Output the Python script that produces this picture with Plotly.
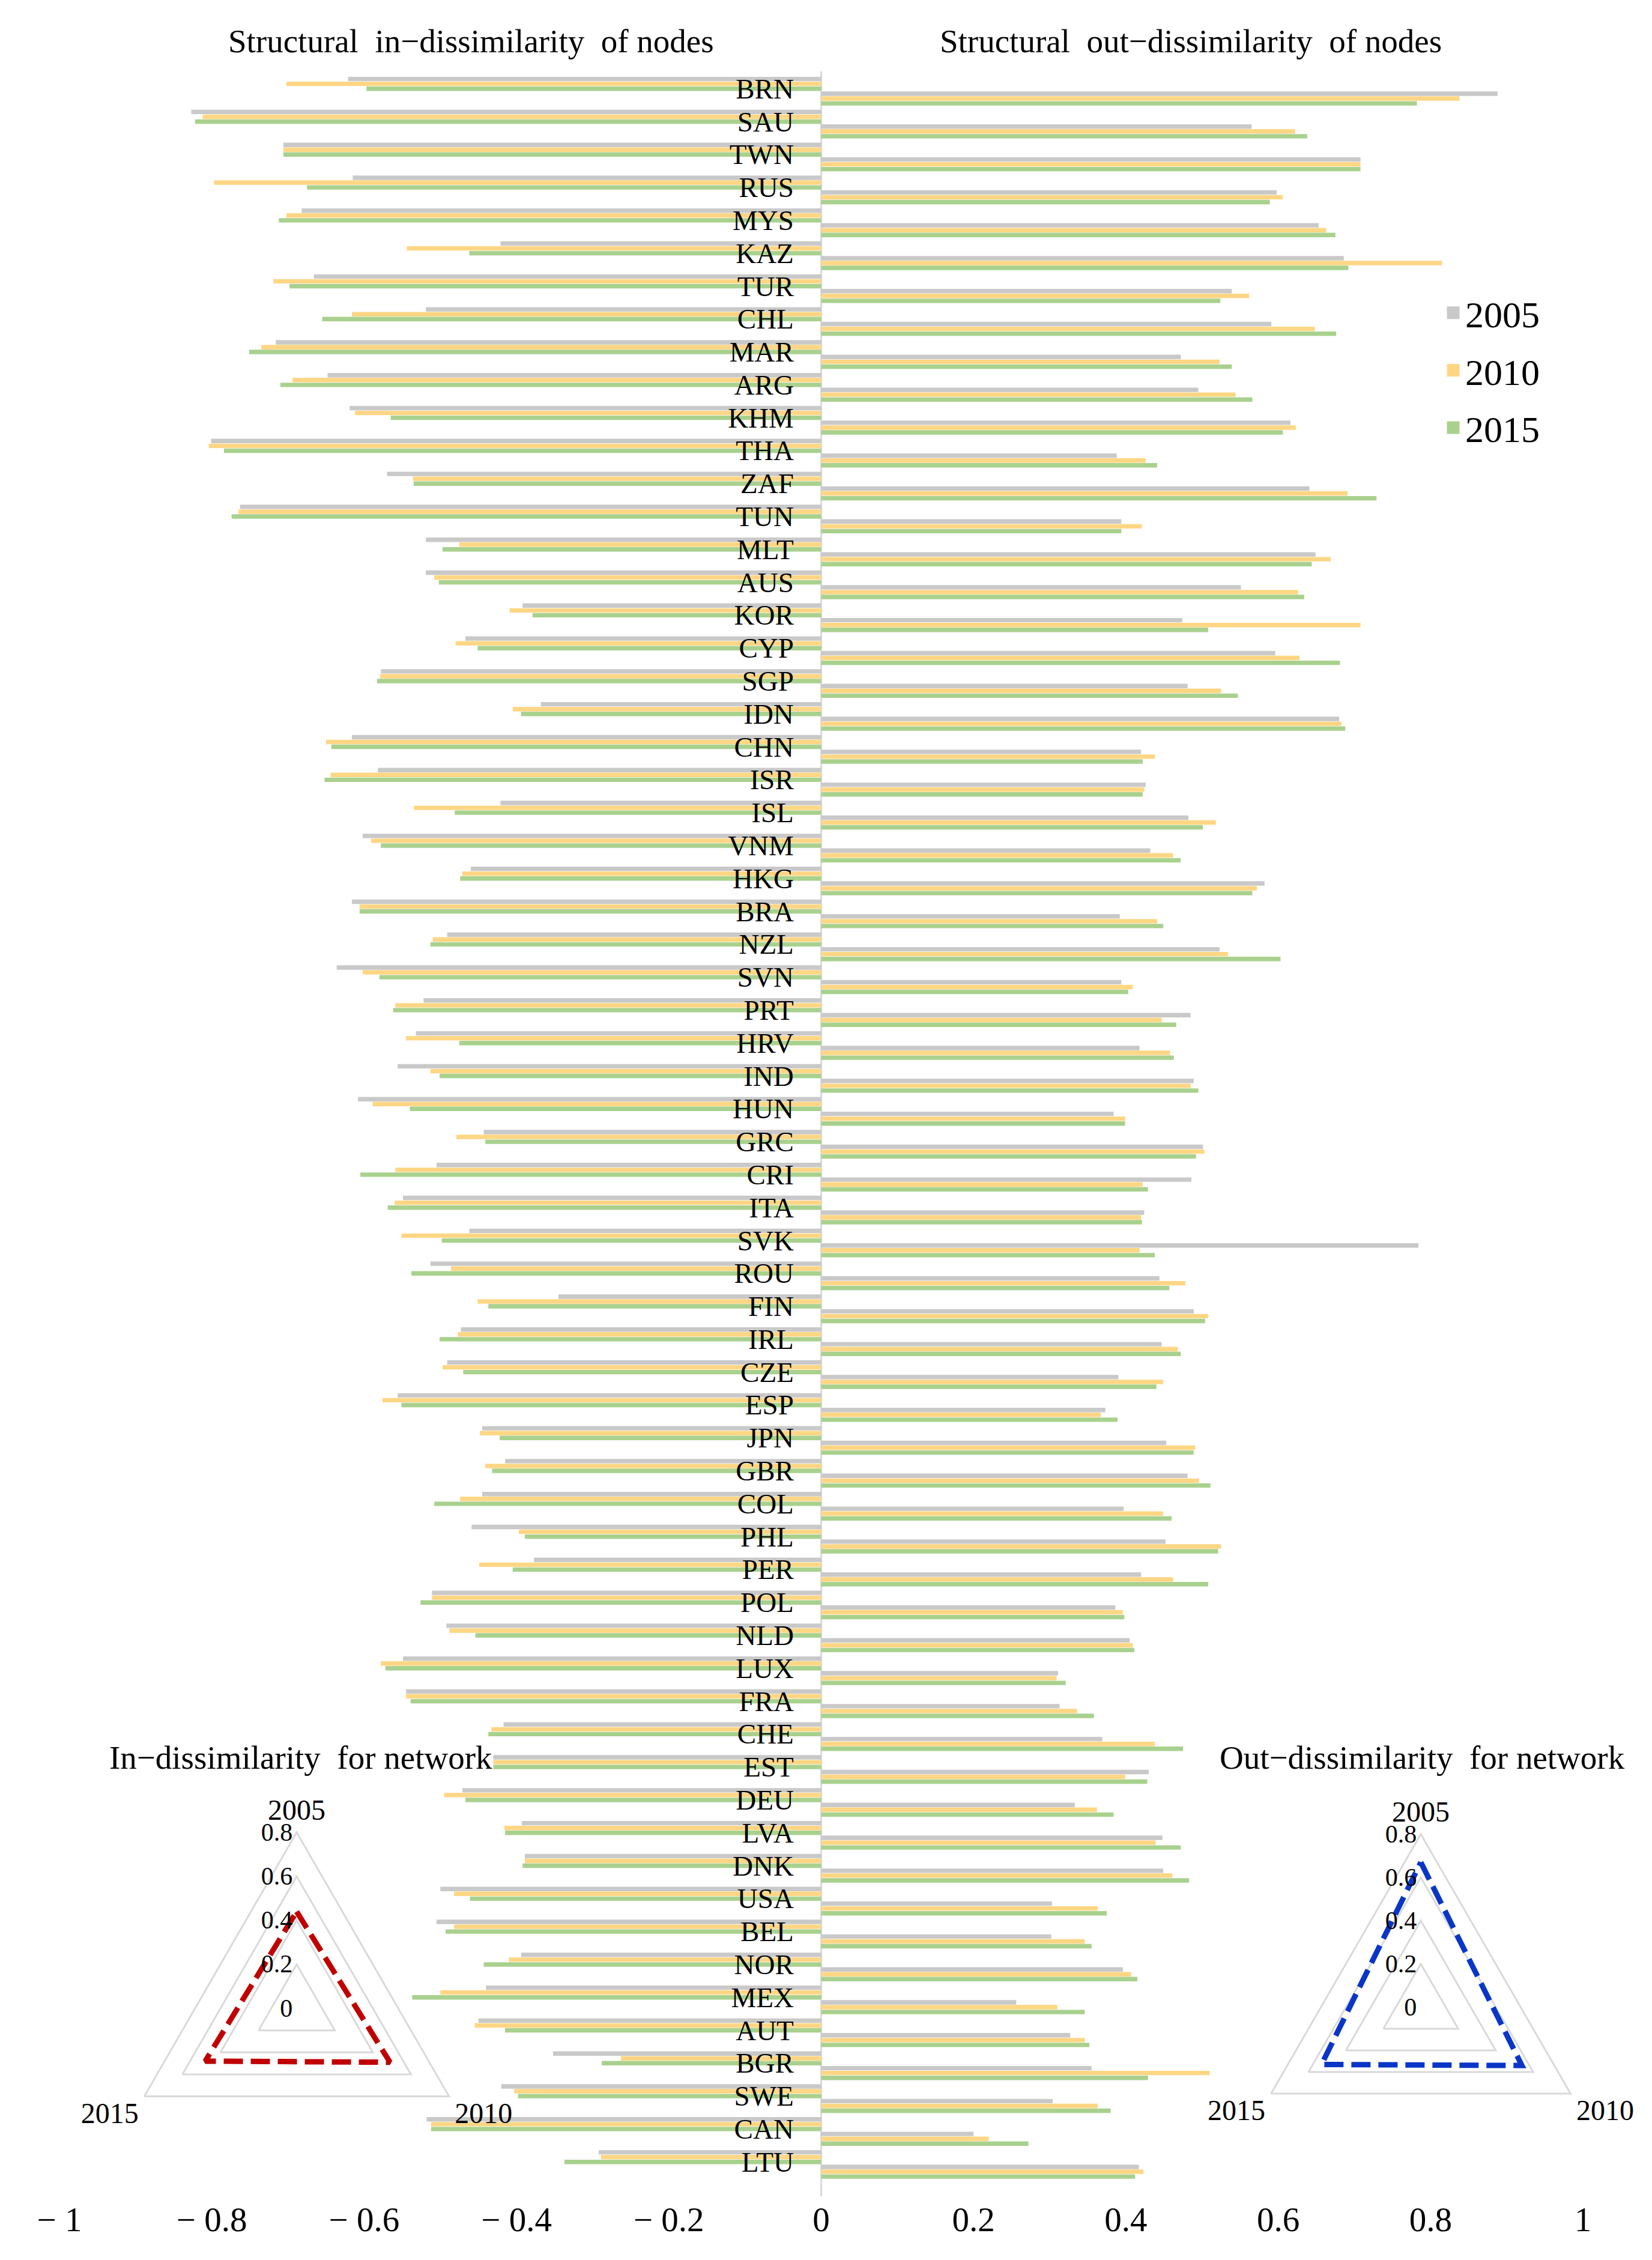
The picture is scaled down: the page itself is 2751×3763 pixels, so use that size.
import plotly.graph_objects as go

countries = ["BRN","SAU","TWN","RUS","MYS","KAZ","TUR","CHL","MAR","ARG","KHM","THA","ZAF","TUN","MLT","AUS",
             "KOR","CYP","SGP","IDN","CHN","ISR","ISL","VNM","HKG","BRA","NZL","SVN","PRT","HRV","IND","HUN",
             "GRC","CRI","ITA","SVK","ROU","FIN","IRL","CZE","ESP","JPN","GBR","COL","PHL","PER","POL","NLD",
             "LUX","FRA","CHE","EST","DEU","LVA","DNK","USA","BEL","NOR","MEX","AUT","BGR","SWE","CAN","LTU"]

in_2005 = [-0.621,-0.827,-0.706,-0.615,-0.682,-0.421,-0.666,-0.519,-0.716,-0.648,-0.619,-0.801,-0.570,-0.763,-0.519,-0.519,
           -0.392,-0.467,-0.578,-0.368,-0.616,-0.582,-0.421,-0.602,-0.460,-0.616,-0.491,-0.636,-0.522,-0.532,-0.556,-0.608,
           -0.443,-0.505,-0.549,-0.462,-0.513,-0.345,-0.473,-0.491,-0.556,-0.445,-0.415,-0.445,-0.459,-0.377,-0.511,-0.492,
           -0.549,-0.545,-0.417,-0.470,-0.471,-0.393,-0.389,-0.500,-0.505,-0.394,-0.440,-0.450,-0.352,-0.420,-0.518,-0.292]
in_2010 = [-0.702,-0.812,-0.706,-0.797,-0.702,-0.544,-0.719,-0.616,-0.735,-0.694,-0.612,-0.804,-0.536,-0.765,-0.475,-0.508,
           -0.409,-0.480,-0.579,-0.405,-0.650,-0.644,-0.535,-0.591,-0.471,-0.606,-0.510,-0.602,-0.559,-0.545,-0.513,-0.589,
           -0.479,-0.559,-0.560,-0.551,-0.486,-0.451,-0.477,-0.497,-0.576,-0.448,-0.441,-0.474,-0.397,-0.449,-0.511,-0.488,
           -0.578,-0.545,-0.433,-0.465,-0.495,-0.416,-0.389,-0.482,-0.482,-0.410,-0.500,-0.455,-0.263,-0.403,-0.512,-0.289]
in_2015 = [-0.597,-0.822,-0.706,-0.675,-0.712,-0.462,-0.698,-0.655,-0.751,-0.710,-0.565,-0.784,-0.535,-0.774,-0.497,-0.502,
           -0.379,-0.451,-0.583,-0.394,-0.643,-0.652,-0.481,-0.578,-0.474,-0.606,-0.513,-0.580,-0.562,-0.475,-0.501,-0.540,
           -0.441,-0.605,-0.569,-0.498,-0.538,-0.437,-0.501,-0.470,-0.551,-0.422,-0.432,-0.508,-0.389,-0.405,-0.526,-0.454,
           -0.572,-0.539,-0.437,-0.465,-0.467,-0.415,-0.392,-0.461,-0.493,-0.443,-0.537,-0.415,-0.288,-0.398,-0.512,-0.337]

out_2005 = [0.888,0.565,0.708,0.598,0.653,0.686,0.539,0.591,0.472,0.495,0.616,0.388,0.641,0.394,0.649,0.551,
            0.474,0.596,0.481,0.680,0.420,0.426,0.482,0.432,0.582,0.392,0.523,0.394,0.485,0.418,0.489,0.384,
            0.501,0.486,0.424,0.784,0.444,0.489,0.447,0.390,0.373,0.453,0.481,0.397,0.452,0.420,0.386,0.405,
            0.311,0.313,0.369,0.430,0.333,0.448,0.449,0.303,0.302,0.396,0.256,0.327,0.355,0.304,0.200,0.417]
out_2010 = [0.838,0.622,0.708,0.606,0.663,0.815,0.562,0.648,0.523,0.544,0.623,0.426,0.691,0.421,0.669,0.626,
            0.708,0.628,0.525,0.683,0.438,0.424,0.518,0.462,0.572,0.441,0.534,0.409,0.447,0.458,0.485,0.399,
            0.503,0.422,0.420,0.418,0.478,0.508,0.468,0.449,0.367,0.491,0.496,0.449,0.525,0.462,0.396,0.409,
            0.309,0.336,0.438,0.399,0.362,0.439,0.461,0.363,0.346,0.407,0.310,0.346,0.510,0.363,0.220,0.423]
out_2015 = [0.782,0.638,0.708,0.589,0.675,0.692,0.524,0.676,0.539,0.566,0.606,0.441,0.729,0.394,0.644,0.634,
            0.508,0.681,0.547,0.688,0.422,0.422,0.501,0.472,0.566,0.449,0.603,0.403,0.466,0.463,0.495,0.399,
            0.492,0.429,0.421,0.438,0.457,0.504,0.472,0.440,0.389,0.489,0.511,0.460,0.521,0.508,0.398,0.411,
            0.321,0.358,0.475,0.428,0.384,0.472,0.483,0.375,0.355,0.415,0.346,0.352,0.429,0.380,0.272,0.412]

years = ["2005", "2010", "2015"]
net_in = [0.44, 0.49, 0.48]
net_out = [0.67, 0.54, 0.53]
radial_ticks = [0, 0.2, 0.4, 0.6, 0.8]
radial_labels = ["0", "0.2", "0.4", "0.6", "0.8"]
x_ticks = [-1, -0.8, -0.6, -0.4, -0.2, 0, 0.2, 0.4, 0.6, 0.8, 1]
x_labels = ["\u2212 1", "\u2212 0.8", "\u2212 0.6", "\u2212 0.4", "\u2212 0.2", "0", "0.2", "0.4", "0.6", "0.8", "1"]

FONT = "Liberation Serif"
COLORS = ["#c9c9c9", "#ffd684", "#a9d18e"]
W, H = 2751, 3763
ML, MR, MT, MB = 91, 80, 111, 114
PW, PH = W - ML - MR, H - MT - MB


def px_x(px):
    return (px - ML) / PW


def px_y(py):
    return (H - MB - py) / PH


fig = go.Figure()

BAR_W = 0.135
STEP = 0.147
in_vals = [in_2005, in_2010, in_2015]
out_vals = [out_2005, out_2010, out_2015]
for k in range(3):
    fig.add_trace(go.Bar(x=in_vals[k], y=countries, orientation="h", width=BAR_W,
                         offset=-0.44 + k * STEP, marker=dict(color=COLORS[k], line=dict(width=0)),
                         showlegend=False, legendgroup=years[k], name=years[k]))
    fig.add_trace(go.Bar(x=out_vals[k], y=countries, orientation="h", width=BAR_W,
                         offset=0.005 + k * STEP, marker=dict(color=COLORS[k], line=dict(width=0)),
                         showlegend=False, legendgroup=years[k], name=years[k]))

# country labels
fig.add_trace(go.Scatter(x=[-0.036] * len(countries), y=countries, mode="text", text=countries,
                         textposition="middle left",
                         textfont=dict(family=FONT, size=47, color="black"),
                         showlegend=False, hoverinfo="skip"))

# legend entries
for k in range(3):
    fig.add_trace(go.Scatter(x=[None], y=[None], mode="markers", name=years[k], legendgroup=years[k],
                             marker=dict(symbol="square", size=16, color=COLORS[k],
                                         line=dict(color=COLORS[k], width=5))))

fig.add_trace(go.Scatterpolar(r=net_in + net_in[:1], theta=years + years[:1], mode="lines",
                              line=dict(color="#c00000", width=9, dash="32px,13px"),
                              subplot="polar", showlegend=False))
fig.add_trace(go.Scatterpolar(r=net_out + net_out[:1], theta=years + years[:1], mode="lines",
                              line=dict(color="#0a36c8", width=9, dash="32px,13px"),
                              subplot="polar2", showlegend=False))


def polar_layout(cx, cy, R):
    return dict(
        domain=dict(x=[px_x(cx - R), px_x(cx + R)], y=[px_y(cy + R), px_y(cy - R)]),
        bgcolor="rgba(0,0,0,0)",
        gridshape="linear",
        radialaxis=dict(range=[0, 0.8], tickvals=radial_ticks, ticktext=radial_labels, angle=90,
                        tickangle=90, side="counterclockwise", showline=False, ticks="",
                        gridcolor="#d9d9d9", gridwidth=3,
                        tickfont=dict(family=FONT, size=42, color="black")),
        angularaxis=dict(type="category", categoryarray=years, rotation=90, direction="clockwise",
                         showgrid=False, showline=True, linecolor="#d9d9d9", linewidth=3, ticks="",
                         tickfont=dict(family=FONT, size=48, color="black")),
    )


n = len(countries)
TFONT = dict(family=FONT, size=55, color="black")
ann = [
    dict(x=px_x(776), y=px_y(60), text="Structural  in\u2212dissimilarity  of nodes"),
    dict(x=px_x(1975), y=px_y(60), text="Structural  out\u2212dissimilarity  of nodes"),
    dict(x=px_x(493), y=px_y(2918), text="In\u2212dissimilarity  for network", bgcolor="white"),
    dict(x=px_x(2360), y=px_y(2918), text="Out\u2212dissimilarity  for network"),
]
for a in ann:
    a.update(xref="paper", yref="paper", showarrow=False, xanchor="center", yanchor="middle", font=TFONT)

fig.update_layout(
    width=W, height=H,
    margin=dict(l=ML, r=MR, t=MT, b=MB),
    paper_bgcolor="white", plot_bgcolor="white",
    barmode="overlay",
    font=dict(family=FONT, color="black"),
    xaxis=dict(range=[-1, 1 + (W - MR - 2628) / 1268.5], tickvals=x_ticks, ticktext=x_labels,
               showgrid=False, zeroline=True, zerolinecolor="#d9d9d9", zerolinewidth=3,
               showline=False, ticks="", tickfont=dict(family=FONT, size=57, color="black")),
    yaxis=dict(type="category", categoryarray=countries,
               range=[n - 1 + (H - MB - 3596) / 54.79, -(144 - MT) / 54.79],
               showticklabels=False, showgrid=False, zeroline=False, showline=False),
    legend=dict(x=px_x(2392), y=px_y(466), xanchor="left", yanchor="top",
                font=dict(family=FONT, size=62, color="black"), bgcolor="rgba(0,0,0,0)",
                tracegroupgap=12),
    polar=polar_layout(486, 3336, 293),
    polar2=polar_layout(2358, 3334, 288),
    annotations=ann,
    showlegend=True,
)

fig.write_html("out.html")
